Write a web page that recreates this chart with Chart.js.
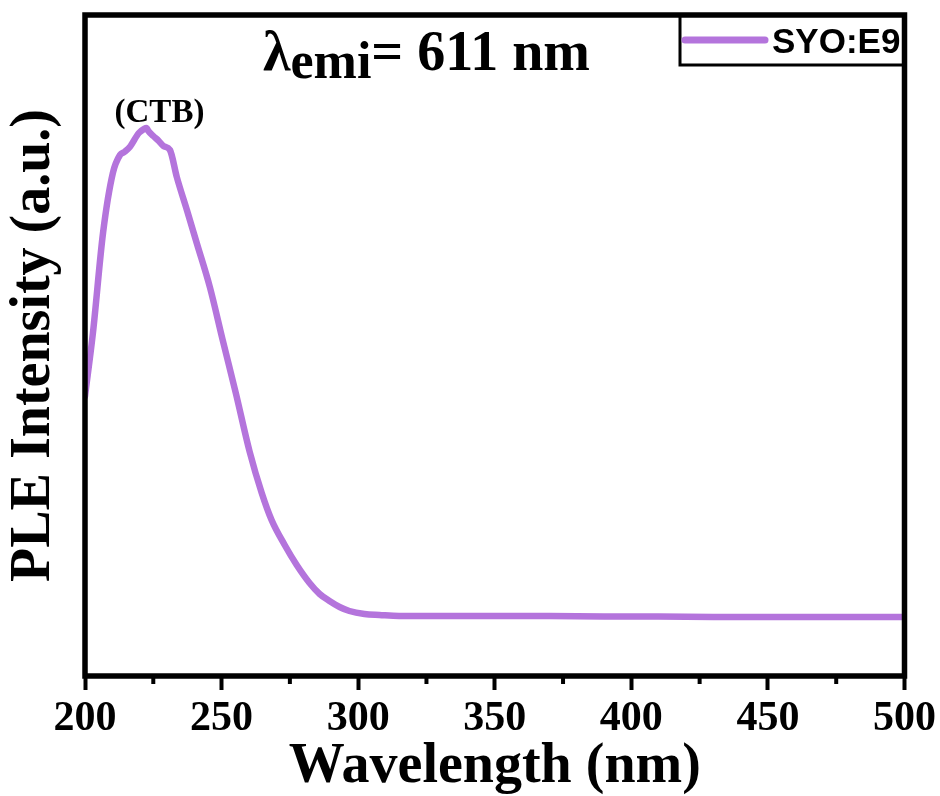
<!DOCTYPE html>
<html>
<head>
<meta charset="utf-8">
<script src="https://cdn.jsdelivr.net/npm/chart.js@4/dist/chart.umd.min.js"></script>
<style>
  html, body { margin: 0; padding: 0; background: #ffffff; }
  #wrap { width: 940px; height: 796px; }
</style>
</head>
<body>
<div id="wrap"><canvas id="c" width="940" height="796"></canvas></div>
<script>
// ---- data ----
const wavelength = [200.0, 202.9, 206.6, 210.2, 212.8, 214.4, 216.4, 219.7, 221.6, 222.5,
  223.2, 225.0, 227.0, 228.7, 231.1, 233.6, 237.3, 240.9, 245.7, 250.4,
  255.2, 260.3, 264.7, 268.3, 273.1, 277.5, 282.2, 285.9, 289.5,
  293.2, 296.8, 302.3, 307.8, 315.0, 330, 350, 370, 390, 410, 430, 450, 470, 490, 500];
const intensity = [280, 343, 443, 503, 521, 524, 529, 543, 547, 548,
  545, 540, 535, 530, 526, 499, 466, 433, 389, 336,
  283, 224, 183, 156, 131, 111, 93, 82, 75,
  69, 65, 62, 61, 60, 60, 60, 60, 59.5, 59.5, 59, 59, 59, 59, 59];
const seriesName = "SYO:E9";
const xMajorTicks = [200, 250, 300, 350, 400, 450, 500];
const xMinorTicks = [225, 275, 325, 375, 425, 475];
const peakLabel = "(CTB)";
const peakWavelength = 222.5;
const peakIntensity = 548;

const purple = '#b474dc';
const serif = "'Liberation Serif', 'Times New Roman', serif";
const sans = "'Liberation Sans', Arial, sans-serif";

const decorPlugin = {
  id: 'decor',
  afterDraw(chart) {
    const ctx = chart.ctx;
    const a = chart.chartArea;
    const xs = chart.scales.x, ys = chart.scales.y;
    ctx.save();
    // minor ticks
    ctx.strokeStyle = '#000';
    ctx.lineWidth = 4;
    xMinorTicks.forEach(v => {
      const px = xs.getPixelForValue(v);
      ctx.beginPath(); ctx.moveTo(px, a.bottom); ctx.lineTo(px, a.bottom + 8); ctx.stroke();
    });
    // frame
    ctx.lineWidth = 5.5;
    ctx.strokeRect(a.left, a.top, a.right - a.left, a.bottom - a.top);

    // legend box
    const lx = 680, ly = a.top, lh = 50;
    ctx.lineWidth = 3;
    ctx.beginPath();
    ctx.moveTo(lx, ly); ctx.lineTo(lx, ly + lh); ctx.lineTo(a.right, ly + lh);
    ctx.stroke();
    ctx.strokeStyle = purple; ctx.lineWidth = 7; ctx.lineCap = 'round';
    ctx.beginPath(); ctx.moveTo(685, 40); ctx.lineTo(765, 40); ctx.stroke();
    ctx.fillStyle = '#000';
    ctx.font = "bold 35px " + sans;
    ctx.textAlign = 'left'; ctx.textBaseline = 'alphabetic';
    ctx.fillText(seriesName, 772, 53);

    // title lambda_emi = 611 nm
    ctx.font = "bold 56px " + serif;
    ctx.fillText('λ', 263, 70);
    let x = 263 + ctx.measureText('λ').width;
    ctx.font = "bold 52px " + serif;
    ctx.fillText('emi', x, 78);
    x += ctx.measureText('emi').width;
    ctx.font = "bold 56px " + serif;
    ctx.fillText('= 611 nm', x, 70);

    // peak label
    ctx.font = "bold 33px " + serif;
    ctx.textAlign = 'center';
    ctx.fillText(peakLabel, xs.getPixelForValue(peakWavelength) + 13, ys.getPixelForValue(peakIntensity) - 6);
    ctx.restore();
  }
};

new Chart(document.getElementById('c'), {
  type: 'line',
  data: {
    datasets: [{
      label: seriesName,
      data: wavelength.map((w, i) => ({ x: w, y: intensity[i] })),
      borderColor: purple,
      borderWidth: 6.5,
      pointRadius: 0,
      fill: false,
      cubicInterpolationMode: 'monotone',
      borderCapStyle: 'round',
      borderJoinStyle: 'round'
    }]
  },
  options: {
    responsive: false,
    animation: false,
    devicePixelRatio: 1,
    layout: { padding: { top: 15, right: 34, left: 0, bottom: 0 } },
    plugins: { legend: { display: false }, tooltip: { enabled: false }, title: { display: false } },
    scales: {
      x: {
        type: 'linear', min: 200, max: 500,
        afterBuildTicks: s => { s.ticks = xMajorTicks.map(v => ({ value: v })); },
        afterFit: s => { s.height = 120; },
        border: { display: false },
        grid: { display: true, drawOnChartArea: false, drawTicks: true, tickLength: 14, tickWidth: 4, tickColor: '#000' },
        ticks: { color: '#000', padding: 4, maxRotation: 0, autoSkip: false,
                 font: { family: serif, size: 42, weight: 'bold', lineHeight: 1.2 } },
        title: { display: true, text: 'Wavelength (nm)', color: '#000',
                 padding: { top: 0, bottom: 0 },
                 font: { family: serif, size: 56, weight: 'bold', lineHeight: 1.0 } }
      },
      y: {
        min: 0, max: 661,
        afterFit: s => { s.width = 85; },
        border: { display: false },
        grid: { display: false },
        ticks: { display: false },
        title: { display: true, text: 'PLE Intensity (a.u.)', color: '#000',
                 padding: { top: 7, bottom: 0 },
                 font: { family: serif, size: 56, weight: 'bold', lineHeight: 1.0 } }
      }
    }
  },
  plugins: [decorPlugin]
});
</script>
</body>
</html>
